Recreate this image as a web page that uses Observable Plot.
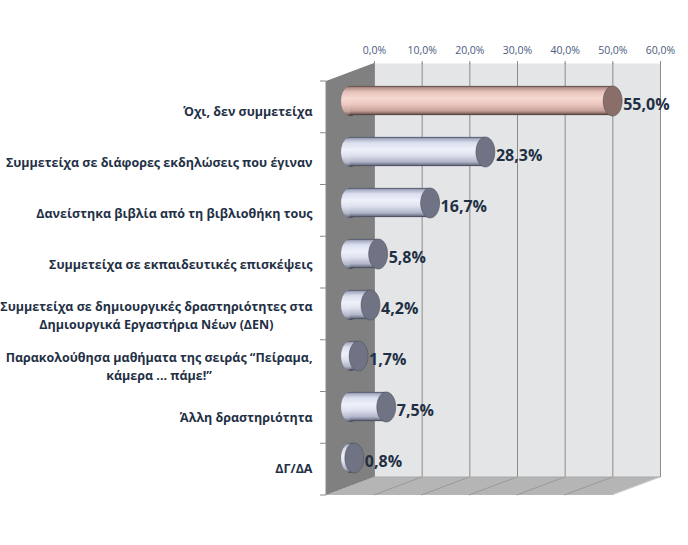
<!DOCTYPE html>
<html><head><meta charset="utf-8">
<script src="https://cdn.jsdelivr.net/npm/d3@7"></script>
<script src="https://cdn.jsdelivr.net/npm/@observablehq/plot@0.6"></script>
<style>body{margin:0;background:#fff} svg{display:block}</style>
</head><body><div id="chart"></div>
<script>
const categories = [
  "Όχι, δεν συμμετείχα",
  "Συμμετείχα σε διάφορες εκδηλώσεις που έγιναν",
  "Δανείστηκα βιβλία από τη βιβλιοθήκη τους",
  "Συμμετείχα σε εκπαιδευτικές επισκέψεις",
  "Συμμετείχα σε δημιουργικές δραστηριότητες στα Δημιουργικά Εργαστήρια Νέων (ΔΕΝ)",
  "Παρακολούθησα μαθήματα της σειράς “Πείραμα, κάμερα ... πάμε!”",
  "Άλλη δραστηριότητα",
  "ΔΓ/ΔΑ"
];
const categoryLabels = [
  "Όχι, δεν συμμετείχα",
  "Συμμετείχα σε διάφορες εκδηλώσεις που έγιναν",
  "Δανείστηκα βιβλία από τη βιβλιοθήκη τους",
  "Συμμετείχα σε εκπαιδευτικές επισκέψεις",
  "Συμμετείχα σε δημιουργικές δραστηριότητες στα\nΔημιουργικά Εργαστήρια Νέων (ΔΕΝ)",
  "Παρακολούθησα μαθήματα της σειράς “Πείραμα,\nκάμερα ... πάμε!”",
  "Άλλη δραστηριότητα",
  "ΔΓ/ΔΑ"
];
const values = [55.0, 28.3, 16.7, 5.8, 4.2, 1.7, 7.5, 0.8];
const valueLabels = ["55,0%", "28,3%", "16,7%", "5,8%", "4,2%", "1,7%", "7,5%", "0,8%"];
const highlighted = ["Όχι, δεν συμμετείχα"];
const xTicks = [0, 10, 20, 30, 40, 50, 60];
const xTickLabels = ["0,0%", "10,0%", "20,0%", "30,0%", "40,0%", "50,0%", "60,0%"];

const data = categories.map((c, i) => ({
  cat: c, tick: categoryLabels[i], value: values[i], label: valueLabels[i], hi: highlighted.includes(c)
}));

// 3D depth offsets (pixels)
const DX = -48, DY = 18;
const FONT = "'Open Sans', 'Noto Sans', sans-serif";

function ellipseSymbol(ratio) {
  return {
    draw(ctx, size) {
      const ry = Math.sqrt(size / Math.PI), rx = ry * ratio, k = 0.5523;
      ctx.moveTo(rx, 0);
      ctx.bezierCurveTo(rx, k * ry, k * rx, ry, 0, ry);
      ctx.bezierCurveTo(-k * rx, ry, -rx, k * ry, -rx, 0);
      ctx.bezierCurveTo(-rx, -k * ry, -k * rx, -ry, 0, -ry);
      ctx.bezierCurveTo(k * rx, -ry, rx, -k * ry, rx, 0);
      ctx.closePath();
    }
  };
}
const ell = ellipseSymbol(0.63);

// decorations: floor, side wall, left axis (built from the plot's scales)
function walls(index, scales, values, dim) {
  const x = scales.x;
  const top = dim.marginTop, bottom = dim.height - dim.marginBottom;
  const x0 = x(0), x1 = x(xTicks[xTicks.length - 1]);
  const g = d3.create("svg:g");
  g.append("path")
    .attr("d", `M${x0},${bottom}L${x1},${bottom}L${x1 + DX},${bottom + DY}L${x0 + DX},${bottom + DY}Z`)
    .attr("fill", "#b5b5b5");
  for (const t of xTicks.slice(1)) {
    g.append("line")
      .attr("x1", x(t)).attr("y1", bottom).attr("x2", x(t) + DX).attr("y2", bottom + DY)
      .attr("stroke", t === xTicks[xTicks.length - 1] ? "#d0d0d0" : "#999").attr("stroke-width", 1);
  }
  g.append("line").attr("x1", x0).attr("y1", bottom).attr("x2", x1).attr("y2", bottom)
    .attr("stroke", "#a9a9a9");
  g.append("path")
    .attr("d", `M${x0},${top}L${x0},${bottom}L${x0 + DX},${bottom + DY}L${x0 + DX},${top + DY}Z`)
    .attr("fill", "#808080");
  g.append("line").attr("x1", x0 + DX).attr("x2", x0 + DX).attr("y1", top + DY).attr("y2", bottom + DY)
    .attr("stroke", "#8a8a8a");
  for (let i = 0; i <= categories.length; i++) {
    const yy = top + DY + i * (bottom - top) / categories.length;
    g.append("line").attr("x1", x0 + DX - 6).attr("x2", x0 + DX).attr("y1", yy).attr("y2", yy)
      .attr("stroke", "#8a8a8a");
  }
  return g.node();
}

const plot = Plot.plot({
  width: 688, height: 545,
  marginLeft: 374, marginRight: 28, marginTop: 63, marginBottom: 68,
  x: {domain: [0, 60], label: null},
  y: {domain: categories, padding: 0, label: null, axis: null},
  style: {fontFamily: FONT, background: "white"},
  marks: [
    Plot.frame({fill: "#e4e5e7", stroke: null}),
    Plot.gridX(xTicks, {stroke: "#8c8c8c", strokeOpacity: 1}),
    Plot.axisX(xTicks, {anchor: "top", tickSize: 3, stroke: "#8c8c8c", tickFormat: () => "", label: null}),
    Plot.axisX(xTicks, {anchor: "top", tickSize: 0, tickPadding: 10, fill: "#4a5c7c", fontSize: 10.5,
      tickFormat: (d) => xTickLabels[xTicks.indexOf(d)], label: null}),
    walls,
    Plot.text(data, {y: "cat", text: "tick", frameAnchor: "left", dx: DX - 14, dy: DY, textAnchor: "end",
      fill: "#1f3045", fontSize: 12.5, fontWeight: "bold", lineHeight: 1.42}),
    // left rounded end
    Plot.dot(data, {x: () => 0, y: "cat", r: 15, symbol: ell, dx: DX / 2, dy: DY / 2,
      fill: d => d.hi ? "url(#gPink)" : "url(#gBlue)", stroke: "none"}),
    // cylinder body
    Plot.barX(data, {x: "value", y: "cat", dx: DX / 2, dy: DY / 2, insetTop: 10.9, insetBottom: 10.9,
      fill: d => d.hi ? "url(#gPink)" : "url(#gBlue)"}),
    // end cap
    Plot.dot(data, {x: "value", y: "cat", r: 15, symbol: ell, dx: DX / 2, dy: DY / 2,
      fill: d => d.hi ? "#8a6e69" : "#6f7383", stroke: d => d.hi ? "#5e4a46" : "#4f5260", strokeWidth: 0.6}),
    Plot.text(data, {x: "value", y: "cat", text: "label", dx: DX / 2 + 10.5, dy: DY / 2 + 4, textAnchor: "start",
      fill: "#1f3044", fontSize: 16, fontWeight: "bold"})
  ]
});

const svg = d3.select(plot);
const defs = svg.insert("defs", ":first-child");
function grad(id, stops) {
  const lg = defs.append("linearGradient").attr("id", id).attr("x1", 0).attr("y1", 0).attr("x2", 0).attr("y2", 1);
  for (const [o, c] of stops) lg.append("stop").attr("offset", o).attr("stop-color", c);
}
grad("gPink", [[0, "#4e3c39"], [0.06, "#b39089"], [0.2, "#e6c2ba"], [0.42, "#f6d9d2"], [0.62, "#ecc8c0"], [0.85, "#c8a29b"], [0.94, "#8a6d68"], [1, "#3e302e"]]);
grad("gBlue", [[0, "#3c4157"], [0.06, "#a6abc2"], [0.2, "#dadeee"], [0.42, "#eff1fa"], [0.62, "#dfe2ef"], [0.85, "#b2b6ca"], [0.94, "#7c8195"], [1, "#3a3e50"]]);

document.getElementById("chart").appendChild(plot);

// center multi-line category labels within their right-aligned block
svg.selectAll("text").each(function () {
  const tspans = this.querySelectorAll("tspan");
  if (tspans.length > 1) {
    let w = 0;
    tspans.forEach(t => { w = Math.max(w, t.getComputedTextLength()); });
    this.setAttribute("text-anchor", "middle");
    this.setAttribute("transform", (this.getAttribute("transform") || "") + ` translate(${-w / 2},0)`);
  }
});
</script>
</body></html>
